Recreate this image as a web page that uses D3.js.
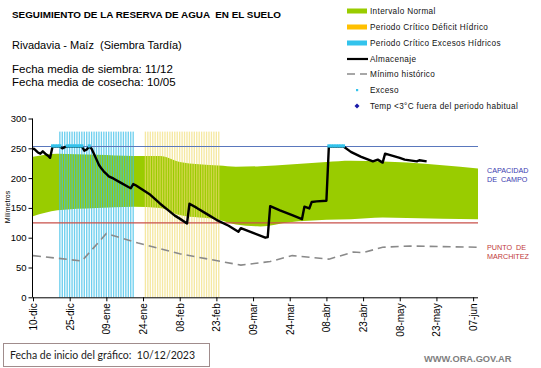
<!DOCTYPE html>
<html>
<head>
<meta charset="utf-8">
<script src="https://cdn.jsdelivr.net/npm/d3@7"></script>
<style>
  body { margin: 0; background: #fff; }
  svg { font-family: "Liberation Sans", Arial, sans-serif; }
</style>
</head>
<body>
<div id="PlotArea"></div>
<script>
// water storage (mm)
var almacenaje = [
  ["2023-12-10",250],["2023-12-11",247],["2023-12-12",243],["2023-12-13",241],["2023-12-14",245],
  ["2023-12-15",241],["2023-12-16",238],["2023-12-17",234],["2023-12-18",253],["2023-12-21",253],
  ["2023-12-22",250],["2023-12-23",252],["2023-12-24",253],["2023-12-30",253],["2023-12-31",246],
  ["2024-01-01",248],["2024-01-02",253],["2024-01-03",249],["2024-01-04",240],["2024-01-05",231],
  ["2024-01-06",222],["2024-01-07",216],["2024-01-08",211],["2024-01-09",207],["2024-01-10",203],
  ["2024-01-12",199],["2024-01-15",192],["2024-01-18",185],["2024-01-19",183],["2024-01-20",190],
  ["2024-01-21",188],["2024-01-24",180],["2024-01-27",172],["2024-01-31",157],["2024-02-03",147],
  ["2024-02-06",137],["2024-02-08",132],["2024-02-11",124],["2024-02-12",157],["2024-02-15",150],
  ["2024-02-19",140],["2024-02-23",130],["2024-02-28",120],["2024-03-03",110],["2024-03-04",116],
  ["2024-03-09",108],["2024-03-14",100],["2024-03-15",101],["2024-03-16",153],["2024-03-20",146],
  ["2024-03-25",138],["2024-03-29",131],["2024-03-30",152],["2024-04-01",149],["2024-04-02",160],
  ["2024-04-04",161],["2024-04-08",162],["2024-04-09",253],["2024-04-15",253],["2024-04-18",244],
  ["2024-04-22",236],["2024-04-27",228],["2024-04-29",231],["2024-05-01",226],["2024-05-02",241],
  ["2024-05-08",234],["2024-05-10",231],["2024-05-15",228],["2024-05-16",230],["2024-05-19",228]
];
var minimoHistorico = [
  ["2023-12-10",70],["2023-12-30",61],["2024-01-09",107],["2024-01-22",91],["2024-02-08",73],
  ["2024-03-04",54],["2024-03-16",60],["2024-03-25",70],["2024-04-09",64],["2024-04-19",76],
  ["2024-04-23",75],["2024-05-01",84],["2024-05-12",86],["2024-06-09",84]
];
// normal interval: date, lower, upper
var intervaloNormal = [
  ["2023-12-10",136,236],["2023-12-20",146,241],["2024-01-05",150,239],["2024-01-20",152,237],
  ["2024-01-31",150,237],["2024-02-08",138,227],["2024-02-24",130,221],["2024-03-02",122,219],
  ["2024-03-12",119,220],["2024-03-24",126,223],["2024-04-08",130,227],["2024-04-18",131,229],
  ["2024-05-01",134,228],["2024-05-11",133,226],["2024-06-09",131,216]
];
var excesoDias = ["2023-12-18","2023-12-19","2023-12-20","2023-12-21","2023-12-24","2023-12-25",
  "2023-12-26","2023-12-27","2023-12-28","2023-12-29","2023-12-30","2024-01-02",
  "2024-04-09","2024-04-10","2024-04-11","2024-04-12","2024-04-13","2024-04-14","2024-04-15"];
var excesoValor = 254;
var periodoExcesos = ["2023-12-21","2024-01-20"];
var periodoDeficit = ["2024-01-25","2024-02-24"];
var periodoAltura = 278;
var capacidadCampo = 253;
var puntoMarchitez = 125;
var yTicks = [0,50,100,150,200,250,300];
var xTickDates = ["2023-12-10","2023-12-25","2024-01-09","2024-01-24","2024-02-08","2024-02-23",
  "2024-03-09","2024-03-24","2024-04-08","2024-04-23","2024-05-08","2024-05-23","2024-06-07"];
var xTickLabels = ["10-dic","25-dic","09-ene","24-ene","08-feb","23-feb","09-mar","24-mar",
  "08-abr","23-abr","08-may","23-may","07-jun"];

var parse = d3.timeParse("%Y-%m-%d");

var svg = d3.select("#PlotArea").append("svg")
  .attr("width", 541).attr("height", 368);

// scales
var xscale = d3.scaleTime().domain([parse("2023-12-10"), parse("2024-06-09")]).range([33, 478]);
var yscale = d3.scaleLinear().domain([0, 300]).range([297.3, 118.5]);
var dayW = xscale(parse("2023-12-11")) - xscale(parse("2023-12-10"));

// green normal band
var area = d3.area()
  .x(function(d){ return xscale(parse(d[0])); })
  .y0(function(d){ return yscale(d[1]); })
  .y1(function(d){ return yscale(d[2]); })
  .curve(d3.curveMonotoneX);
svg.append("path").attr("d", area(intervaloNormal)).attr("fill", "#99cc00");

// critical periods, one stripe per day
function stripes(period, color, op){
  var days = d3.timeDay.range(parse(period[0]), d3.timeDay.offset(parse(period[1]), 1));
  svg.append("g").selectAll("rect").data(days).enter().append("rect")
    .attr("x", function(d){ return xscale(d) - dayW * 0.3; })
    .attr("width", dayW * 0.55)
    .attr("y", yscale(periodoAltura))
    .attr("height", yscale(0) - yscale(periodoAltura))
    .attr("fill", color).attr("opacity", op);
}
stripes(periodoExcesos, "#3fbfe8", 0.75);
stripes(periodoDeficit, "#f0dc70", 0.65);

// reference lines
svg.append("line").attr("x1", 33).attr("x2", 478)
  .attr("y1", yscale(capacidadCampo)).attr("y2", yscale(capacidadCampo))
  .attr("stroke", "#5a78bd").attr("stroke-width", 1.2);
svg.append("line").attr("x1", 33).attr("x2", 478)
  .attr("y1", yscale(puntoMarchitez)).attr("y2", yscale(puntoMarchitez))
  .attr("stroke", "#c8504a").attr("stroke-width", 1.2);

var lineFunction = d3.line()
  .x(function(d){ return xscale(parse(d[0])); })
  .y(function(d){ return yscale(d[1]); });

svg.append("path").attr("d", lineFunction(minimoHistorico)).attr("fill", "none")
  .attr("stroke", "#8a8a8a").attr("stroke-width", 1.6).attr("stroke-dasharray", "8,5");
svg.append("path").attr("d", lineFunction(almacenaje)).attr("fill", "none")
  .attr("stroke", "#000").attr("stroke-width", 2.4).attr("stroke-linejoin", "round");

// excess markers
svg.append("g").selectAll("rect").data(excesoDias).enter().append("rect")
  .attr("x", function(d){ return xscale(parse(d)) - dayW / 2 - 0.3; })
  .attr("width", dayW + 0.6)
  .attr("y", yscale(excesoValor) - 1.6).attr("height", 3.2)
  .attr("fill", "#33c3ec");

// axes
var y_axis = d3.axisLeft(yscale).tickValues(yTicks).tickSize(4).tickSizeOuter(0);
var gy = svg.append("g").attr("transform", "translate(32.5,0)").call(y_axis);
gy.selectAll("text").attr("font-size", "9.5px").attr("fill", "#000").attr("x", -6);
gy.select(".domain").attr("d", "M0," + yscale(300) + "V" + yscale(0));

var x_axis = d3.axisBottom(xscale).tickValues(xTickDates.map(parse))
  .tickFormat(function(d, i){ return xTickLabels[i]; }).tickSize(4).tickSizeOuter(0);
var gx = svg.append("g").attr("transform", "translate(0," + yscale(0) + ")").call(x_axis);
gx.select(".domain").attr("d", "M32.5,0.5H478");
gx.selectAll("text")
  .attr("font-size", "10px").attr("fill", "#000")
  .attr("transform", "rotate(-90)")
  .attr("x", -6).attr("y", 0).attr("dy", "0.35em")
  .style("text-anchor", "end");
svg.selectAll(".domain, .tick line").attr("stroke", "#000");

svg.append("text").attr("transform", "translate(10,207) rotate(-90)")
  .attr("font-size", "7px").style("text-anchor", "middle").text("Milímetros");

// right side labels
svg.append("text").attr("x", 487).attr("y", 173).attr("font-size", "7.2px").attr("fill", "#3b3bb0")
  .text("CAPACIDAD");
svg.append("text").attr("x", 487).attr("y", 182).attr("font-size", "7.2px").attr("fill", "#3b3bb0")
  .style("white-space", "pre").text("DE  CAMPO");
svg.append("text").attr("x", 487).attr("y", 249.5).attr("font-size", "7.2px").attr("fill", "#c03a3a")
  .style("white-space", "pre").text("PUNTO  DE");
svg.append("text").attr("x", 487).attr("y", 258.5).attr("font-size", "7.2px").attr("fill", "#c03a3a")
  .text("MARCHITEZ");

// header texts
svg.append("text").attr("x", 12).attr("y", 18).attr("font-size", "9.9px").attr("font-weight", "bold")
  .style("white-space", "pre").text("SEGUIMIENTO DE LA RESERVA DE AGUA  EN EL SUELO");
svg.append("text").attr("x", 12).attr("y", 49).attr("font-size", "11px")
  .style("white-space", "pre").text("Rivadavia - Maíz  (Siembra Tardía)");
svg.append("text").attr("x", 12).attr("y", 73).attr("font-size", "11.5px")
  .text("Fecha media de siembra: 11/12");
svg.append("text").attr("x", 12).attr("y", 86).attr("font-size", "11.5px")
  .text("Fecha media de cosecha: 10/05");

// legend
var legendY = [11, 27, 43, 59, 74, 90, 106];
var legendText = ["Intervalo Normal","Periodo Crítico Déficit Hídrico","Periodo Crítico Excesos Hídricos",
  "Almacenaje","Mínimo histórico","Exceso","Temp <3°C fuera del periodo habitual"];
var legend = svg.selectAll(".legend").data(legendText).enter().append("g")
  .attr("class", "legend")
  .attr("transform", function(d, i){ return "translate(0," + legendY[i] + ")"; });
legend.append("text").attr("x", 370).attr("y", 0).attr("dy", "0.35em")
  .attr("font-size", "8.2px").attr("letter-spacing", "0.35px").attr("fill", "#111")
  .text(function(d){ return d; });
var lg = legend.nodes();
d3.select(lg[0]).append("rect").attr("x", 347).attr("y", -2.5).attr("width", 20).attr("height", 5).attr("fill", "#99cc00");
d3.select(lg[1]).append("rect").attr("x", 347).attr("y", -2.5).attr("width", 20).attr("height", 5).attr("fill", "#ffc000");
d3.select(lg[2]).append("rect").attr("x", 347).attr("y", -2.5).attr("width", 20).attr("height", 5).attr("fill", "#33c3ec");
d3.select(lg[3]).append("line").attr("x1", 347).attr("x2", 368).attr("stroke", "#000").attr("stroke-width", 2.2);
d3.select(lg[4]).append("line").attr("x1", 347).attr("x2", 367).attr("stroke", "#8a8a8a")
  .attr("stroke-width", 1.6).attr("stroke-dasharray", "8,5");
d3.select(lg[5]).append("rect").attr("x", 356).attr("y", -1).attr("width", 2.2).attr("height", 2.2).attr("fill", "#33c3ec");
d3.select(lg[6]).append("path").attr("d", "M357,-2.5L359.5,0L357,2.5L354.5,0Z").attr("fill", "#1a1aa8");

// footer
svg.append("rect").attr("x", 3.5).attr("y", 343.5).attr("width", 206).attr("height", 23)
  .attr("fill", "#fff").attr("stroke", "#a08c8c");
svg.append("text").attr("x", 10).attr("y", 359).attr("font-family", "Lato, sans-serif")
  .attr("font-size", "10.5px").attr("fill", "#1a1a1a").style("white-space", "pre")
  .text("Fecha de inicio del gráfico:  10/12/2023");
svg.append("text").attr("x", 424).attr("y", 362).attr("font-size", "9.3px").attr("font-weight", "bold")
  .attr("fill", "#808080").text("WWW.ORA.GOV.AR");
</script>
</body>
</html>
